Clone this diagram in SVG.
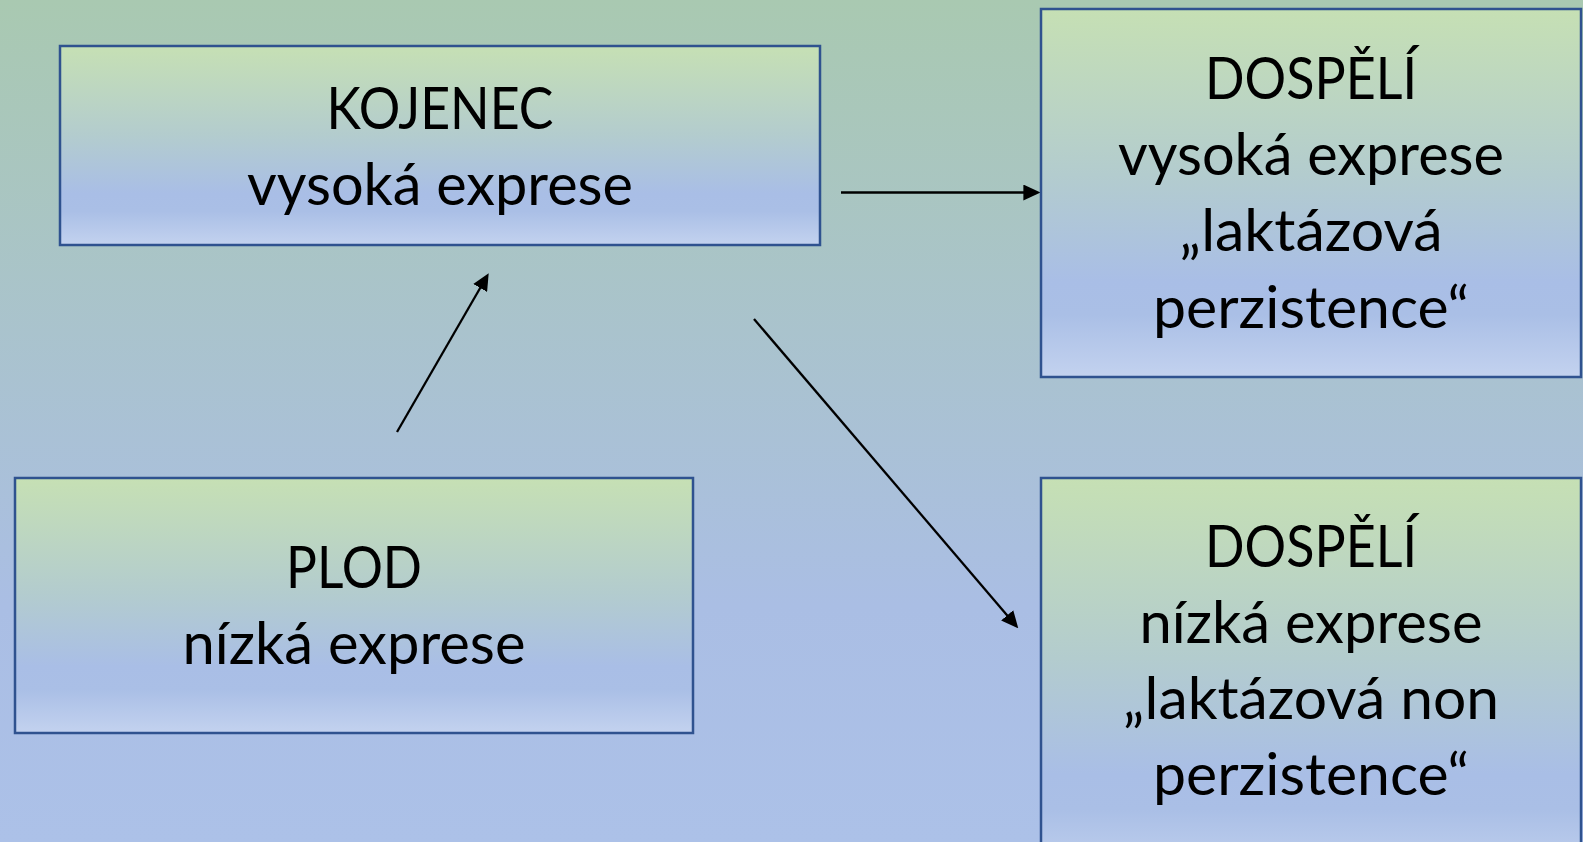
<svg xmlns="http://www.w3.org/2000/svg" width="1583" height="842" viewBox="0 0 1583 842">
  <defs>
    <linearGradient id="bg" x1="0" y1="0" x2="0" y2="1">
      <stop offset="0" stop-color="#A9C9B1"/>
      <stop offset="0.72" stop-color="#AABEE4"/>
      <stop offset="1" stop-color="#ACC1E8"/>
    </linearGradient>
    <linearGradient id="boxfill" x1="0" y1="0" x2="0" y2="1">
      <stop offset="0" stop-color="#C6E0B4"/>
      <stop offset="0.45" stop-color="#B3CCCE"/>
      <stop offset="0.74" stop-color="#A9BEE6"/>
      <stop offset="0.83" stop-color="#AABFE6"/>
      <stop offset="1" stop-color="#C3D2EF"/>
    </linearGradient>
    <marker id="arrow" markerUnits="userSpaceOnUse" markerWidth="17" markerHeight="16" refX="10" refY="7.5" orient="auto" viewBox="0 0 16 15">
      <path d="M0,0 L16,7.5 L0,15 Z" fill="#000"/>
    </marker>
    <style>
      .box { fill: url(#boxfill); stroke: #2F528F; stroke-width: 2.5; }
      .lbl { font-family: Lato, "Liberation Sans", sans-serif; font-size: 58px; fill: #000; text-anchor: middle; }
      .conn { stroke: #000; stroke-width: 2.3; fill: none; marker-end: url(#arrow); }
    </style>
  </defs>

  <rect x="0" y="0" width="1583" height="842" fill="url(#bg)"/>

  <g id="connectors">
    <line class="conn" x1="841" y1="192.5" x2="1034" y2="192.5"/>
    <line class="conn" x1="397" y1="432" x2="485.5" y2="278.7"/>
    <line class="conn" x1="754" y1="319" x2="1014.1" y2="623.4"/>
  </g>

  <g id="kojenec">
    <rect class="box" x="60" y="46" width="760" height="199"/>
    <text class="lbl" x="440" y="129" textLength="227" lengthAdjust="spacingAndGlyphs">KOJENEC</text>
    <text class="lbl" x="440" y="205" textLength="386" lengthAdjust="spacingAndGlyphs">vysoká exprese</text>
  </g>

  <g id="plod">
    <rect class="box" x="15" y="478" width="678" height="255"/>
    <text class="lbl" x="354" y="588" textLength="136" lengthAdjust="spacingAndGlyphs">PLOD</text>
    <text class="lbl" x="354" y="664" textLength="343" lengthAdjust="spacingAndGlyphs">nízká exprese</text>
  </g>

  <g id="dospeli-persistence">
    <rect class="box" x="1041" y="9" width="540" height="368"/>
    <text class="lbl" x="1311" y="99" textLength="212" lengthAdjust="spacingAndGlyphs">DOSPĚLÍ</text>
    <text class="lbl" x="1311" y="175.2" textLength="386" lengthAdjust="spacingAndGlyphs">vysoká exprese</text>
    <text class="lbl" x="1311" y="251.4" textLength="263" lengthAdjust="spacingAndGlyphs">„laktázová</text>
    <text class="lbl" x="1311" y="327.6" textLength="316" lengthAdjust="spacingAndGlyphs">perzistence“</text>
  </g>

  <g id="dospeli-nonpersistence">
    <rect class="box" x="1041" y="478" width="540" height="400"/>
    <text class="lbl" x="1311" y="567" textLength="212" lengthAdjust="spacingAndGlyphs">DOSPĚLÍ</text>
    <text class="lbl" x="1311" y="643" textLength="343" lengthAdjust="spacingAndGlyphs">nízká exprese</text>
    <text class="lbl" x="1311" y="719" textLength="376" lengthAdjust="spacingAndGlyphs">„laktázová non</text>
    <text class="lbl" x="1311" y="795" textLength="316" lengthAdjust="spacingAndGlyphs">perzistence“</text>
  </g>
</svg>
